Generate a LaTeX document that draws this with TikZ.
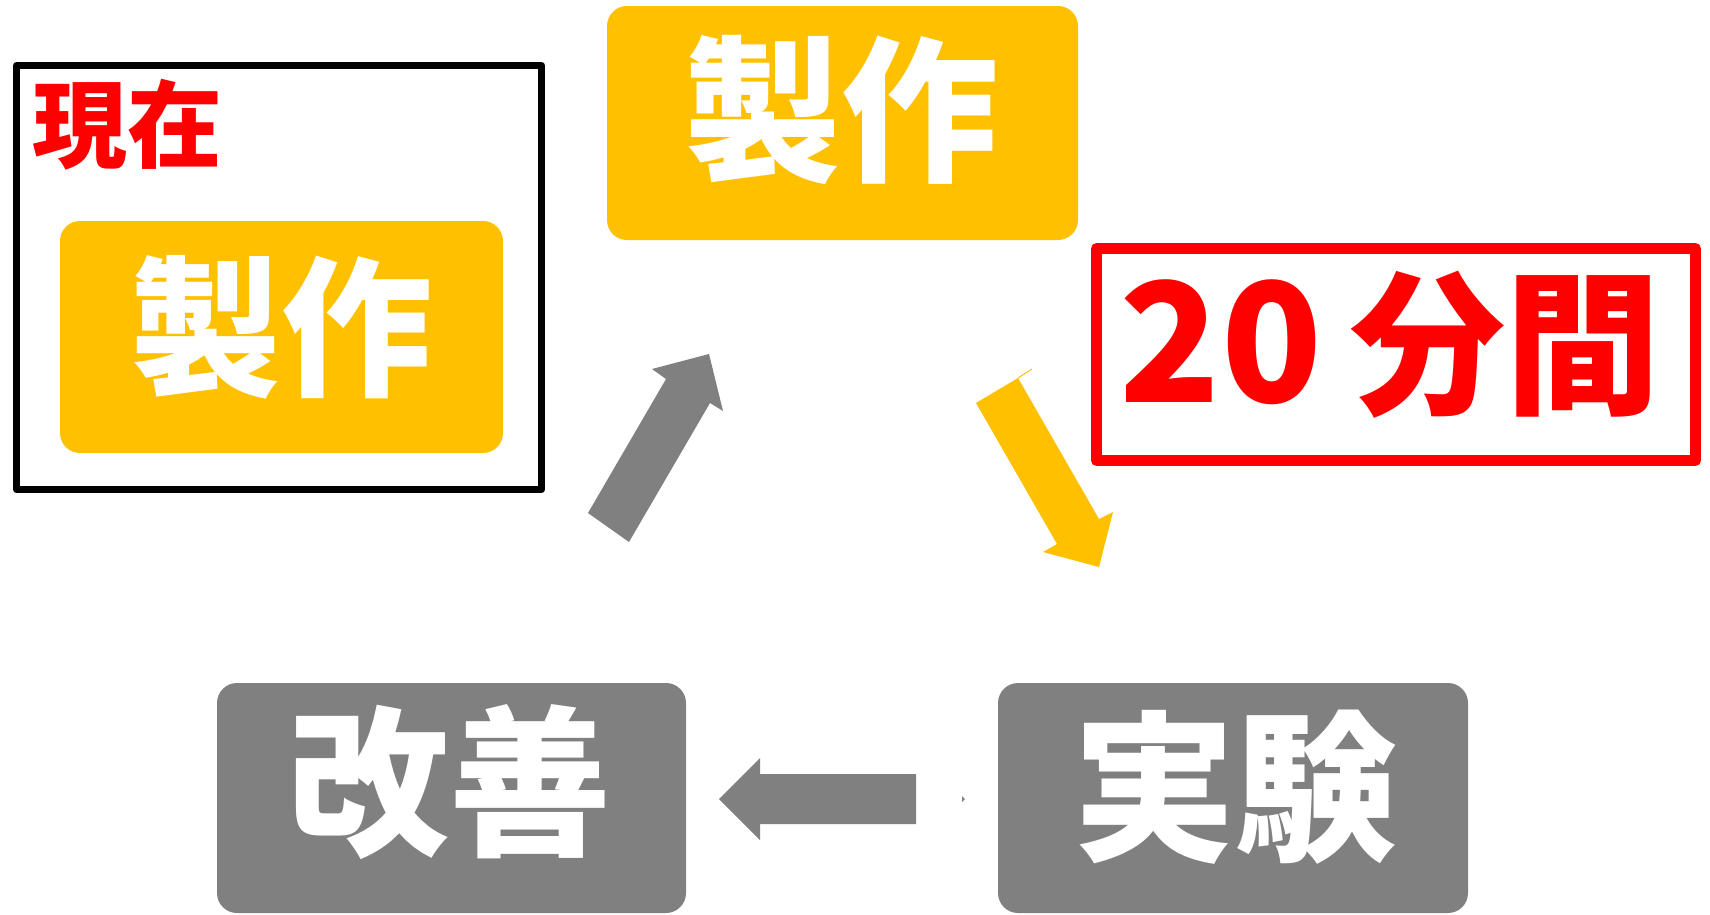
\documentclass[tikz,border=0pt]{standalone}
\usepackage{fontspec}
\newfontfamily\jp{Noto Sans CJK JP}
\definecolor{ygold}{HTML}{FFC000}
\definecolor{ggray}{HTML}{808080}
\definecolor{rred}{HTML}{FF0000}
\begin{document}
\begin{tikzpicture}[x=1pt,y=-1pt,
  boxfill/.style={rounded corners=20pt},
  lbl/.style={inner sep=0pt,anchor=center,font=\jp\bfseries}]
\useasboundingbox (0,0) rectangle (1710,914);
% frames
\draw[line width=7pt,line join=round] (16.5,65.5) rectangle (541.5,489.5);
\draw[rred,line width=11pt,line join=round] (1096.5,248.5) rectangle (1695.5,460.5);
% boxes
\fill[ygold,boxfill] (60,221) rectangle (503,453);
\fill[ygold,boxfill] (607,6) rectangle (1078,240);
\fill[ggray,boxfill] (217,683) rectangle (686,913);
\fill[ggray,boxfill] (998,683) rectangle (1468,913);
% texts
\node[lbl,text=rred,font=\jp\bfseries\fontsize{95}{95}\selectfont] (now) at (127,125) {現在};
\node[lbl,text=white,font=\jp\bfseries\fontsize{151}{151}\selectfont] (makeA) at (281,327) {製作};
\node[lbl,text=white,font=\jp\bfseries\fontsize{157}{157}\selectfont] (make) at (841,110) {製作};
\node[lbl,text=rred,font=\jp\bfseries\fontsize{166}{166}\selectfont] (num) at (1221,342) {20};
\node[lbl,text=rred,font=\jp\bfseries\fontsize{155}{155}\selectfont] (time) at (1505,345) {分間};
\node[lbl,text=white,font=\jp\bfseries\fontsize{162}{162}\selectfont] (improve) at (449,782) {改善};
\node[lbl,text=white,font=\jp\bfseries\fontsize{162}{162}\selectfont] (test) at (1235,787) {実験};
% block arrows
\fill[ggray] (588,513) -- (666,379) -- (652,369) -- (709,354) -- (723,411) -- (710,403) -- (629,542) -- cycle;
\fill[ygold] (976,403) -- (1018,378) -- (1099,519) -- (1113,512) -- (1099,567) -- (1043,552) -- (1057,544) -- cycle;
\draw[ygold,line width=1pt] (1018,378) -- (1032,369);
\fill[ggray] (916,774) -- (760,774) -- (760,758) -- (719,799) -- (760,840) -- (760,824) -- (916,824) -- cycle;
\fill[ggray] (962,796) -- (965,799) -- (962,802) -- cycle;
\end{tikzpicture}
\end{document}
